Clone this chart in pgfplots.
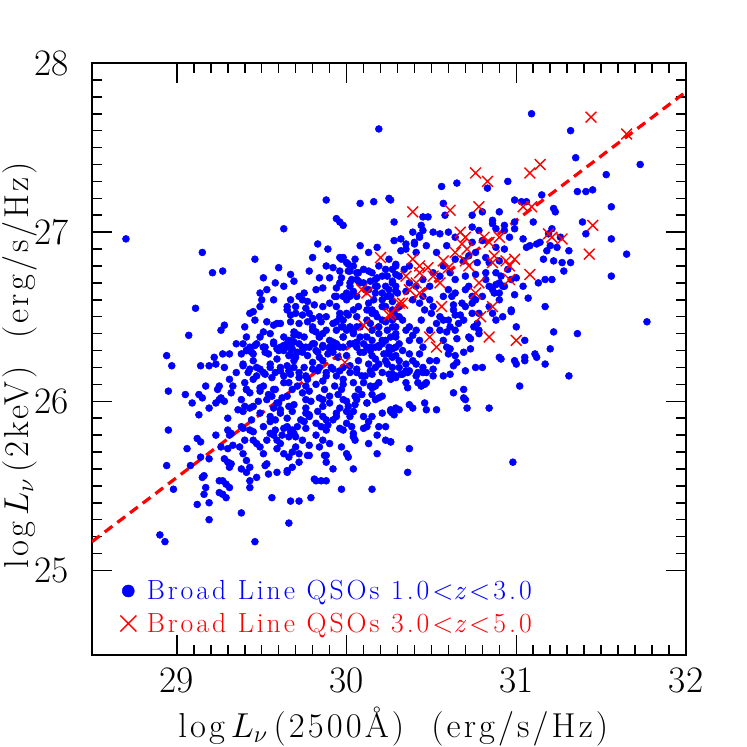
\documentclass[border=0pt]{standalone}
\usepackage{fix-cm}
\usepackage{fontspec}
\newfontfamily\labfont{Latin Modern Roman}[LetterSpace=9]
\newfontfamily\legfont{Latin Modern Roman}[LetterSpace=11]
\usepackage{pgfplots}
\pgfplotsset{compat=1.18}
\pgfplotstableread{
x y
28.70 26.96
30.19 27.61
31.09 27.70
31.32 27.60
31.35 27.44
31.73 27.40
31.53 27.34
31.56 27.15
30.56 27.27
30.65 27.29
30.83 27.26
30.95 27.30
30.99 27.19
31.03 27.18
31.06 27.18
31.15 27.22
31.36 27.24
31.41 27.24
31.45 27.25
31.22 27.14
31.23 27.12
30.90 27.12
30.80 27.12
30.74 27.10
30.57 27.17
30.58 27.10
30.48 27.09
30.45 27.09
30.44 27.04
31.39 27.06
31.56 26.96
31.65 26.87
31.56 26.74
31.77 26.47
31.22 26.41
31.36 26.40
31.20 26.31
31.31 26.15
31.11 26.28
31.12 26.26
31.17 26.22
31.05 26.24
31.00 26.22
30.91 26.25
30.80 26.20
30.57 26.15
30.61 26.16
30.63 26.21
30.69 26.29
30.73 26.31
30.97 26.54
31.17 26.56
31.07 26.61
31.13 26.70
31.17 26.72
31.21 26.72
31.16 26.84
31.22 26.83
31.27 26.82
31.32 26.82
31.28 26.77
31.31 26.89
31.10 27.06
31.24 26.91
31.20 26.92
31.18 26.89
31.21 27.02
31.19 26.99
31.26 26.97
31.41 26.99
31.12 26.93
31.14 26.94
31.08 26.92
31.02 26.09
30.63 26.05
30.69 26.07
30.69 26.02
30.70 26.01
30.71 25.96
30.84 25.96
30.53 25.95
30.46 25.99
30.47 25.95
30.37 25.98
30.39 25.96
30.29 25.96
30.31 25.95
30.26 25.94
30.27 25.93
30.42 26.11
30.44 26.09
30.47 26.11
30.46 26.10
30.35 26.11
30.36 26.08
30.32 26.16
30.27 26.15
30.26 26.13
30.36 26.17
30.41 26.15
30.45 26.17
30.26 25.76
30.37 25.72
30.36 25.58
30.98 25.64
28.98 25.48
28.90 25.21
28.93 25.17
29.12 25.39
29.16 25.45
29.17 25.49
29.19 25.40
29.19 25.30
29.25 25.53
29.27 25.53
29.29 25.51
29.31 25.49
29.25 25.46
29.27 25.45
29.29 25.43
29.38 25.34
29.43 25.53
29.43 25.49
29.46 25.17
29.56 25.43
29.66 25.28
29.67 25.41
29.72 25.41
29.79 25.43
29.82 25.53
29.85 25.53
29.88 25.53
29.97 25.48
30.15 25.48
29.88 27.19
30.08 27.17
30.16 27.18
30.25 27.20
30.26 27.19
29.63 27.02
29.94 27.08
29.96 27.06
29.98 27.04
29.83 26.93
29.15 26.88
29.46 26.84
29.89 26.90
30.08 26.92
30.18 26.91
30.13 26.88
29.80 26.85
29.96 26.85
29.98 26.85
30.05 26.84
29.88 26.80
29.92 26.79
30.01 26.81
29.60 26.79
29.21 26.76
29.27 26.77
29.78 26.77
29.96 26.77
30.02 26.77
29.67 26.75
29.51 26.73
29.84 26.73
29.90 26.73
29.58 26.70
30.03 26.72
30.07 26.71
30.10 26.70
30.14 26.71
30.17 26.72
29.86 26.67
29.94 26.67
29.93 26.62
30.02 26.68
30.04 26.65
30.02 26.62
29.49 26.64
29.50 26.60
29.72 26.62
29.67 26.60
29.98 26.62
30.00 26.60
29.74 26.60
29.77 26.59
30.18 26.68
30.21 26.64
30.21 26.60
30.23 26.56
29.11 26.55
29.43 26.52
29.45 26.53
29.65 26.54
29.67 26.51
29.70 26.52
29.74 26.51
29.78 26.52
29.80 26.49
29.84 26.50
29.94 26.56
29.96 26.52
29.98 26.48
30.01 26.51
30.12 26.54
30.15 26.52
30.17 26.52
30.21 26.48
29.28 26.45
29.26 26.42
29.40 26.44
29.57 26.45
29.61 26.46
29.51 26.41
29.07 26.39
29.69 26.39
29.72 26.39
29.66 26.36
29.82 26.41
29.84 26.38
29.86 26.40
29.94 26.42
29.98 26.44
29.98 26.38
30.04 26.41
30.06 26.44
30.21 26.36
30.19 26.40
30.24 26.42
29.35 26.34
29.41 26.30
29.43 26.31
29.45 26.28
29.51 26.32
29.52 26.29
29.59 26.31
29.63 26.30
29.66 26.32
29.69 26.35
29.67 26.28
29.70 26.26
29.74 26.29
29.78 26.32
29.82 26.30
29.84 26.26
29.90 26.32
29.92 26.29
29.95 26.26
30.06 26.32
30.10 26.29
30.14 26.30
30.17 26.32
28.94 26.27
28.97 26.21
29.22 26.26
29.23 26.22
29.31 26.28
29.14 26.21
29.19 26.21
29.27 26.28
29.28 26.20
29.39 26.22
29.43 26.19
29.47 26.20
29.47 26.15
29.51 26.17
29.55 26.20
29.58 26.17
29.61 26.20
29.63 26.15
29.66 26.18
29.69 26.20
29.72 26.17
29.76 26.15
29.80 26.19
29.84 26.20
29.88 26.17
29.92 26.19
29.98 26.20
30.02 26.17
30.06 26.19
30.14 26.18
30.17 26.20
30.21 26.17
28.95 26.06
29.05 26.04
29.09 25.99
29.13 26.04
29.15 26.02
29.13 25.92
29.19 25.96
29.23 25.99
29.25 26.01
29.28 26.00
28.95 25.83
29.06 25.72
28.94 25.62
29.08 25.62
29.12 25.78
29.14 25.76
29.14 25.67
29.23 25.80
29.30 25.90
29.32 25.81
29.30 25.72
29.36 25.95
29.40 25.97
29.43 25.96
29.38 25.85
29.43 25.83
29.33 25.74
29.37 25.73
29.39 25.69
29.41 25.65
29.43 25.61
29.15 25.55
29.31 25.61
29.45 25.77
29.49 25.73
29.51 25.69
29.53 26.01
29.56 26.03
29.59 25.99
29.62 26.02
29.55 25.91
29.58 25.89
29.61 25.93
29.65 25.85
29.68 25.83
29.70 25.79
29.55 25.81
29.59 25.77
29.63 25.69
29.66 25.67
29.72 25.69
29.77 25.68
29.53 25.63
29.59 25.58
29.65 25.59
29.68 25.61
29.74 25.77
29.78 25.74
29.82 25.80
29.84 25.73
29.81 25.54
29.87 25.68
29.92 25.60
29.97 25.73
30.04 25.60
30.13 25.75
30.18 25.69
30.18 25.80
30.10 25.91
30.15 25.91
30.21 25.93
30.12 25.85
30.19 25.85
30.23 25.85
30.21 26.03
30.17 26.01
30.12 25.99
30.06 26.01
29.76 26.01
29.86 26.01
29.90 26.03
29.98 26.01
29.76 25.93
29.86 25.91
29.94 25.93
30.02 25.91
29.98 25.83
30.04 25.81
29.88 25.83
29.66 26.11
29.76 26.09
29.86 26.12
29.98 26.10
30.10 26.11
30.17 26.09
29.33 26.09
29.41 26.07
29.49 26.08
29.57 26.07
29.35 26.17
29.31 26.13
29.17 26.09
29.25 26.09
29.24 26.07
29.32 26.05
29.26 26.02
29.19 25.66
29.28 25.66
29.30 25.64
29.32 25.63
29.16 25.56
29.30 25.83
29.31 25.80
29.26 25.73
30.28 27.06
30.28 26.95
29.97 26.73
30.06 26.72
30.07 26.76
29.46 26.48
29.70 26.40
29.80 26.44
29.85 26.47
29.97 26.84
30.00 26.82
30.10 26.78
30.13 26.77
30.15 26.76
30.18 26.73
30.21 26.74
30.24 26.74
30.27 26.78
30.29 26.75
30.27 26.71
30.23 26.68
30.24 26.62
30.27 26.59
30.30 26.64
30.16 26.60
30.13 26.58
30.07 26.56
30.04 26.54
30.00 26.52
29.96 26.50
29.94 26.47
29.97 26.44
30.00 26.42
30.04 26.40
30.08 26.38
30.12 26.38
30.15 26.42
30.23 26.36
30.26 26.38
30.29 26.40
30.25 26.32
30.19 26.32
30.14 26.32
30.10 26.34
30.02 26.34
29.98 26.32
29.93 26.32
30.23 25.77
30.26 25.76
30.10 25.84
30.13 25.88
30.26 25.95
30.28 25.92
30.27 26.16
30.29 26.14
30.11 26.15
30.19 26.22
30.24 26.22
30.15 26.08
30.09 26.04
30.15 26.04
30.01 25.97
30.04 25.94
29.96 25.84
30.00 25.87
30.03 25.85
30.04 25.79
30.05 25.77
30.00 25.69
30.01 25.67
29.88 25.68
29.88 25.64
29.78 25.68
29.70 25.73
29.68 25.70
29.72 25.64
29.59 25.72
29.65 25.58
29.54 25.57
29.52 25.62
29.47 25.55
29.41 25.58
29.38 25.60
29.58 25.83
29.62 25.80
29.66 25.79
29.82 25.87
29.85 25.85
29.89 25.86
29.92 25.89
29.78 25.91
29.75 25.88
29.71 25.85
29.67 25.82
29.86 25.77
29.90 25.75
30.99 26.63
30.97 26.53
30.88 26.69
30.87 26.64
30.90 26.26
30.99 26.24
31.05 26.26
30.64 26.27
30.72 26.38
30.69 26.48
30.67 26.51
30.64 26.51
30.77 26.46
30.78 26.42
30.65 26.37
30.61 26.44
30.59 26.41
30.55 26.50
30.53 26.46
30.57 26.48
30.51 26.56
30.50 26.52
30.46 26.54
30.44 26.48
30.41 26.42
30.37 26.44
30.33 26.48
30.29 26.44
30.37 26.36
30.31 26.34
30.27 26.31
30.25 26.28
30.43 26.28
30.39 26.24
30.35 26.22
30.31 26.20
30.37 26.18
30.45 26.20
30.49 26.24
30.53 26.24
30.51 26.19
30.60 26.28
30.59 26.32
30.65 26.23
30.45 27.01
30.43 26.98
30.51 27.00
30.55 26.99
30.60 27.00
30.47 26.92
30.40 26.94
30.32 26.96
30.74 27.03
30.78 27.01
30.86 27.05
30.93 27.04
30.99 27.06
30.88 26.91
30.93 26.90
30.82 26.85
30.84 26.82
30.90 26.83
30.72 26.86
30.77 26.82
30.69 26.83
30.57 26.80
30.61 26.76
30.55 26.74
30.64 26.72
30.29 26.80
30.34 26.78
30.31 26.74
30.27 26.70
30.37 26.70
30.41 26.68
30.35 26.65
30.29 26.65
30.26 26.62
30.45 26.62
30.49 26.60
30.43 26.58
30.39 26.60
30.31 26.56
30.28 26.52
30.64 26.64
30.70 26.66
30.74 26.62
30.68 26.58
30.74 26.58
30.63 26.57
30.60 26.66
30.57 26.62
30.88 26.76
30.91 26.74
30.82 26.72
30.82 26.76
30.70 26.74
30.76 26.75
31.04 26.96
30.93 26.68
30.97 26.72
30.86 26.66
30.78 26.52
30.74 26.52
30.64 26.42
30.76 26.20
30.70 26.18
30.42 26.17
30.33 26.16
30.39 27.00
30.40 26.93
30.43 26.97
30.35 26.93
30.32 26.89
30.86 27.07
30.88 27.02
30.93 27.01
30.96 26.97
30.99 27.02
31.06 26.91
30.90 26.64
30.92 26.68
30.86 26.52
30.88 26.48
31.00 26.44
31.05 26.36
30.73 26.37
30.78 26.40
29.41 26.30
29.46 26.33
29.51 26.32
29.57 26.34
29.63 26.33
29.68 26.35
29.74 26.32
29.80 26.34
29.86 26.33
29.92 26.35
29.96 26.32
30.04 26.34
30.12 26.32
30.19 26.33
30.25 26.30
30.29 26.27
29.39 26.21
29.45 26.24
29.49 26.19
29.55 26.22
29.59 26.25
29.65 26.21
29.69 26.24
29.75 26.20
29.80 26.23
29.86 26.24
29.91 26.20
29.96 26.18
30.02 26.21
30.07 26.24
30.13 26.22
30.17 26.25
30.23 26.24
29.40 26.11
29.45 26.13
29.51 26.09
29.56 26.14
29.63 26.11
29.67 26.16
29.71 26.09
29.77 26.13
29.82 26.10
29.88 26.15
29.93 26.09
29.98 26.13
30.04 26.11
30.09 26.15
30.14 26.09
30.19 26.11
29.38 26.01
29.43 26.05
29.48 26.00
29.54 26.04
29.60 25.99
29.65 26.03
29.69 25.98
29.74 26.05
29.79 26.00
29.84 26.02
29.90 25.99
29.95 26.04
30.00 26.00
30.05 26.03
30.12 25.99
30.19 26.02
29.39 25.94
29.44 25.89
29.49 25.93
29.55 25.88
29.61 25.95
29.65 25.90
29.68 25.94
29.73 25.89
29.78 25.92
29.83 25.94
29.88 25.89
29.94 25.91
30.00 25.94
29.38 26.28
29.44 26.29
29.54 26.28
29.60 26.30
29.66 26.27
29.71 26.29
29.77 26.27
29.83 26.29
29.89 26.28
30.00 26.27
30.08 26.29
30.15 26.27
30.22 26.28
29.42 26.17
29.52 26.16
29.61 26.18
29.72 26.14
29.83 26.18
29.94 26.15
30.06 26.17
30.15 26.16
30.25 26.16
29.41 26.07
29.49 26.06
29.58 26.07
29.68 26.07
29.78 26.06
29.87 26.07
29.97 26.07
30.07 26.07
29.45 25.97
29.57 25.96
29.66 25.97
29.76 25.96
29.86 25.97
29.96 25.96
30.05 25.98
29.39 25.84
29.45 25.82
29.51 25.85
29.57 25.80
29.63 25.84
29.69 25.81
29.76 25.84
29.40 25.77
29.47 25.75
29.53 25.77
29.61 25.75
29.86 26.56
29.90 26.58
29.88 26.50
29.92 26.46
29.88 26.42
29.90 26.36
29.84 26.38
29.81 26.34
29.76 26.32
29.72 26.34
29.68 26.31
29.65 26.34
29.61 26.32
29.57 26.35
29.52 26.32
29.47 26.34
29.43 26.32
29.39 26.34
29.41 26.38
29.49 26.38
29.55 26.40
29.63 26.38
29.69 26.41
29.75 26.38
29.80 26.42
29.77 26.47
29.72 26.46
29.67 26.47
29.59 26.46
29.53 26.47
29.65 26.56
29.70 26.56
29.76 26.55
29.81 26.57
29.75 26.64
29.82 26.66
29.94 26.62
30.00 26.64
30.06 26.62
30.11 26.66
29.96 26.70
30.02 26.70
30.08 26.70
30.06 26.50
30.12 26.48
30.18 26.50
30.23 26.47
30.29 26.50
30.21 26.56
30.27 26.54
30.15 26.54
30.02 26.44
30.08 26.44
30.14 26.46
30.19 26.44
30.27 26.44
30.06 26.35
30.15 26.36
30.21 26.34
30.29 26.32
29.98 26.38
29.94 26.34
29.90 26.31
29.86 26.32
30.13 26.66
30.17 26.64
30.25 26.66
30.29 26.68
30.17 26.68
30.23 26.78
30.19 26.80
30.25 26.84
30.29 26.81
30.06 26.76
30.04 26.80
30.01 26.77
29.49 26.56
29.57 26.60
29.53 26.66
29.63 26.68
29.69 26.71
30.27 26.48
30.31 26.50
30.35 26.42
30.29 26.38
30.39 26.39
30.43 26.36
30.33 26.30
30.27 26.26
30.31 26.24
30.37 26.28
30.41 26.22
30.27 26.20
30.35 26.18
30.29 26.15
30.47 26.17
30.51 26.15
30.45 26.32
30.49 26.42
30.55 26.42
30.57 26.36
30.61 26.31
30.60 26.48
30.63 26.54
30.66 26.46
30.62 26.62
30.49 26.68
30.45 26.72
30.51 26.76
30.37 26.80
30.41 26.88
30.35 26.90
30.53 26.88
30.59 26.92
30.64 26.84
30.76 26.88
30.80 26.95
30.74 26.94
30.64 26.97
30.95 26.78
31.00 26.73
31.04 26.68
30.90 26.60
30.84 26.68
30.72 26.68
30.70 26.56
30.76 26.60
30.80 26.62
30.84 26.56
30.90 26.70
30.92 26.50
30.75 26.44
}\bluedata
\pgfplotstableread{
x y
31.44 27.68
31.65 27.58
31.08 27.35
31.14 27.40
30.76 27.35
30.83 27.30
30.39 27.12
30.61 27.13
30.78 27.15
31.04 27.15
31.09 27.15
31.45 27.04
31.43 26.87
31.21 26.97
31.27 26.96
30.67 27.00
30.70 26.97
30.68 26.93
30.81 26.97
30.84 26.94
30.90 26.97
30.71 26.90
30.39 26.84
30.43 26.80
30.48 26.79
30.57 26.83
30.60 26.79
30.70 26.83
30.72 26.80
30.87 26.86
30.86 26.82
30.94 26.83
30.99 26.84
30.96 26.80
31.08 26.75
30.96 26.72
30.35 26.74
30.41 26.70
30.43 26.76
30.51 26.74
30.55 26.70
30.37 26.66
30.43 26.64
30.78 26.70
30.76 26.64
30.86 26.56
30.79 26.50
30.31 26.58
30.56 26.56
30.49 26.38
30.53 26.32
30.84 26.38
31.00 26.36
30.20 26.85
30.09 26.66
30.12 26.64
30.10 26.45
30.26 26.52
29.99 26.23
30.25 26.51
30.33 26.58
31.19 26.99
30.64 26.88
}\reddata
\begin{document}
\begin{tikzpicture}
\path[use as bounding box] (-0.92in,-0.92in) rectangle (6.55in,6.55in);
\begin{axis}[
  name=ax, at={(0,0)}, anchor=south west,
  scale only axis, width=5.94in, height=5.92in,
  xmin=28.5, xmax=32, ymin=24.5, ymax=28,
  xtick={29,30,31,32}, ytick={25,26,27,28},
  minor x tick num=9, minor y tick num=9,
  tick align=inside, major tick length=0.2in, minor tick length=0.1in,
  every tick/.style={black, line width=1.1pt},
  axis line style={line width=1.6pt},
  /pgf/number format/assume math mode=true,
  ticklabel style={font=\fontsize{27}{27}\selectfont},
  xticklabel style={yshift=-6pt},
  yticklabel style={xshift=-13pt},
  xlabel={\labfont log\,$L_\nu$\,(2500Å)\ \ (erg/s/Hz)},
  ylabel={\labfont log\,$L_\nu$\,(2keV)\ \ (erg/s/Hz)},
  label style={font=\fontsize{25}{25}\selectfont},
  xlabel style={at={(axis description cs:0.145,-0.121)}, anchor=west, inner sep=0pt},
  ylabel style={at={(axis description cs:-0.122,0.49)}, anchor=center},
  legend style={at={(axis description cs:0.046,0.03)}, anchor=south west,
    draw=none, fill=none, font=\fontsize{20}{22}\selectfont\legfont,
    row sep=4pt, column sep=0.07in, inner sep=0pt},
  legend cell align=left,
]
\addplot[only marks, mark=*, mark size=2.5pt, blue, mark options={draw=blue, fill=blue},
  legend image code/.code={\fill[blue] (0.12in,0) circle (0.06in);}]
  table[x=x,y=y] {\bluedata};
\addlegendentry{\textcolor{blue}{Broad Line QSOs 1.0<\textit{z}<3.0}}
\addplot[only marks, mark=x, mark size=5.5pt, red, mark options={line width=1pt},
  legend image code/.code={\draw[red, line width=1pt] (0.04in,-0.08in)--(0.2in,0.08in) (0.04in,0.08in)--(0.2in,-0.08in);}]
  table[x=x,y=y] {\reddata};
\addlegendentry{\textcolor{red}{Broad Line QSOs 3.0<\textit{z}<5.0}}
\addplot[red, line width=2.3pt, dash pattern=on 7pt off 4.5pt, forget plot]
  coordinates {(28.5,25.17) (32,27.83)};
\end{axis}
\end{tikzpicture}
\end{document}
